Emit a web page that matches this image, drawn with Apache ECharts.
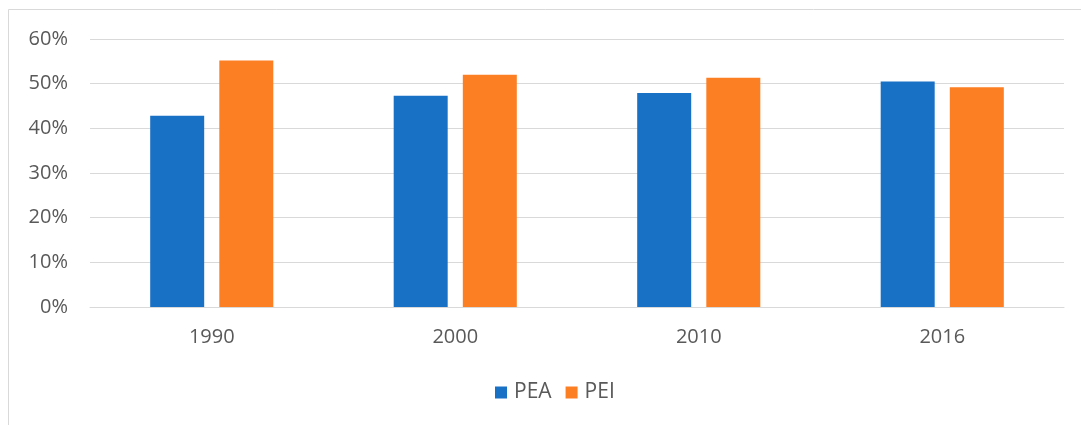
<!DOCTYPE html>
<html>
<head>
<meta charset="utf-8">
<script src="https://cdn.jsdelivr.net/npm/echarts@6/dist/echarts.min.js"></script>
<style>
  html, body { margin: 0; padding: 0; background: #ffffff; }
  #chart { width: 1081px; height: 425px; }
</style>
</head>
<body>
<div id="chart"></div>
<script>
// Share of each group by year (percent)
const years = ['1990', '2000', '2010', '2016'];
const peaValues = [42.8, 47.3, 47.9, 50.5];
const peiValues = [55.2, 52.0, 51.3, 49.2];
const yTicks = [0, 10, 20, 30, 40, 50, 60];

const chart = echarts.init(document.getElementById('chart'));
const font = '"Open Sans", "DejaVu Sans", sans-serif';

chart.setOption({
  animation: false,
  backgroundColor: '#ffffff',
  graphic: [{
    type: 'rect',
    shape: { x: 8.5, y: 9.5, width: 1100, height: 440 },
    style: { fill: 'none', stroke: '#d9d9d9', lineWidth: 1 },
    silent: true,
    z: -1
  }],
  grid: { left: 90, right: 17, top: 39, bottom: 118, containLabel: false },
  legend: {
    data: ['PEA', 'PEI'],
    bottom: 17,
    left: 490,
    itemWidth: 12,
    itemHeight: 12,
    itemGap: 14,
    icon: 'rect',
    textStyle: { color: '#595959', fontSize: 21, fontFamily: font, padding: [0, 0, 0, 2] }
  },
  xAxis: {
    type: 'category',
    data: years,
    axisLine: { show: true, lineStyle: { color: '#d9d9d9', width: 1 } },
    axisTick: { show: false },
    axisLabel: { color: '#595959', fontSize: 20, fontFamily: font, margin: 20 }
  },
  yAxis: {
    type: 'value',
    min: yTicks[0],
    max: yTicks[yTicks.length - 1],
    interval: 10,
    axisLine: { show: false },
    axisTick: { show: false },
    splitLine: { lineStyle: { color: '#d9d9d9', width: 1 } },
    axisLabel: {
      color: '#595959', fontSize: 20, fontFamily: font, margin: 22,
      formatter: v => v + '%'
    }
  },
  series: [
    {
      name: 'PEA',
      type: 'bar',
      data: peaValues,
      barWidth: 54,
      barGap: '28%',
      itemStyle: { color: '#1971C6' }
    },
    {
      name: 'PEI',
      type: 'bar',
      data: peiValues,
      barWidth: 54,
      barGap: '28%',
      itemStyle: { color: '#FD7F24' }
    }
  ]
});
</script>
</body>
</html>
